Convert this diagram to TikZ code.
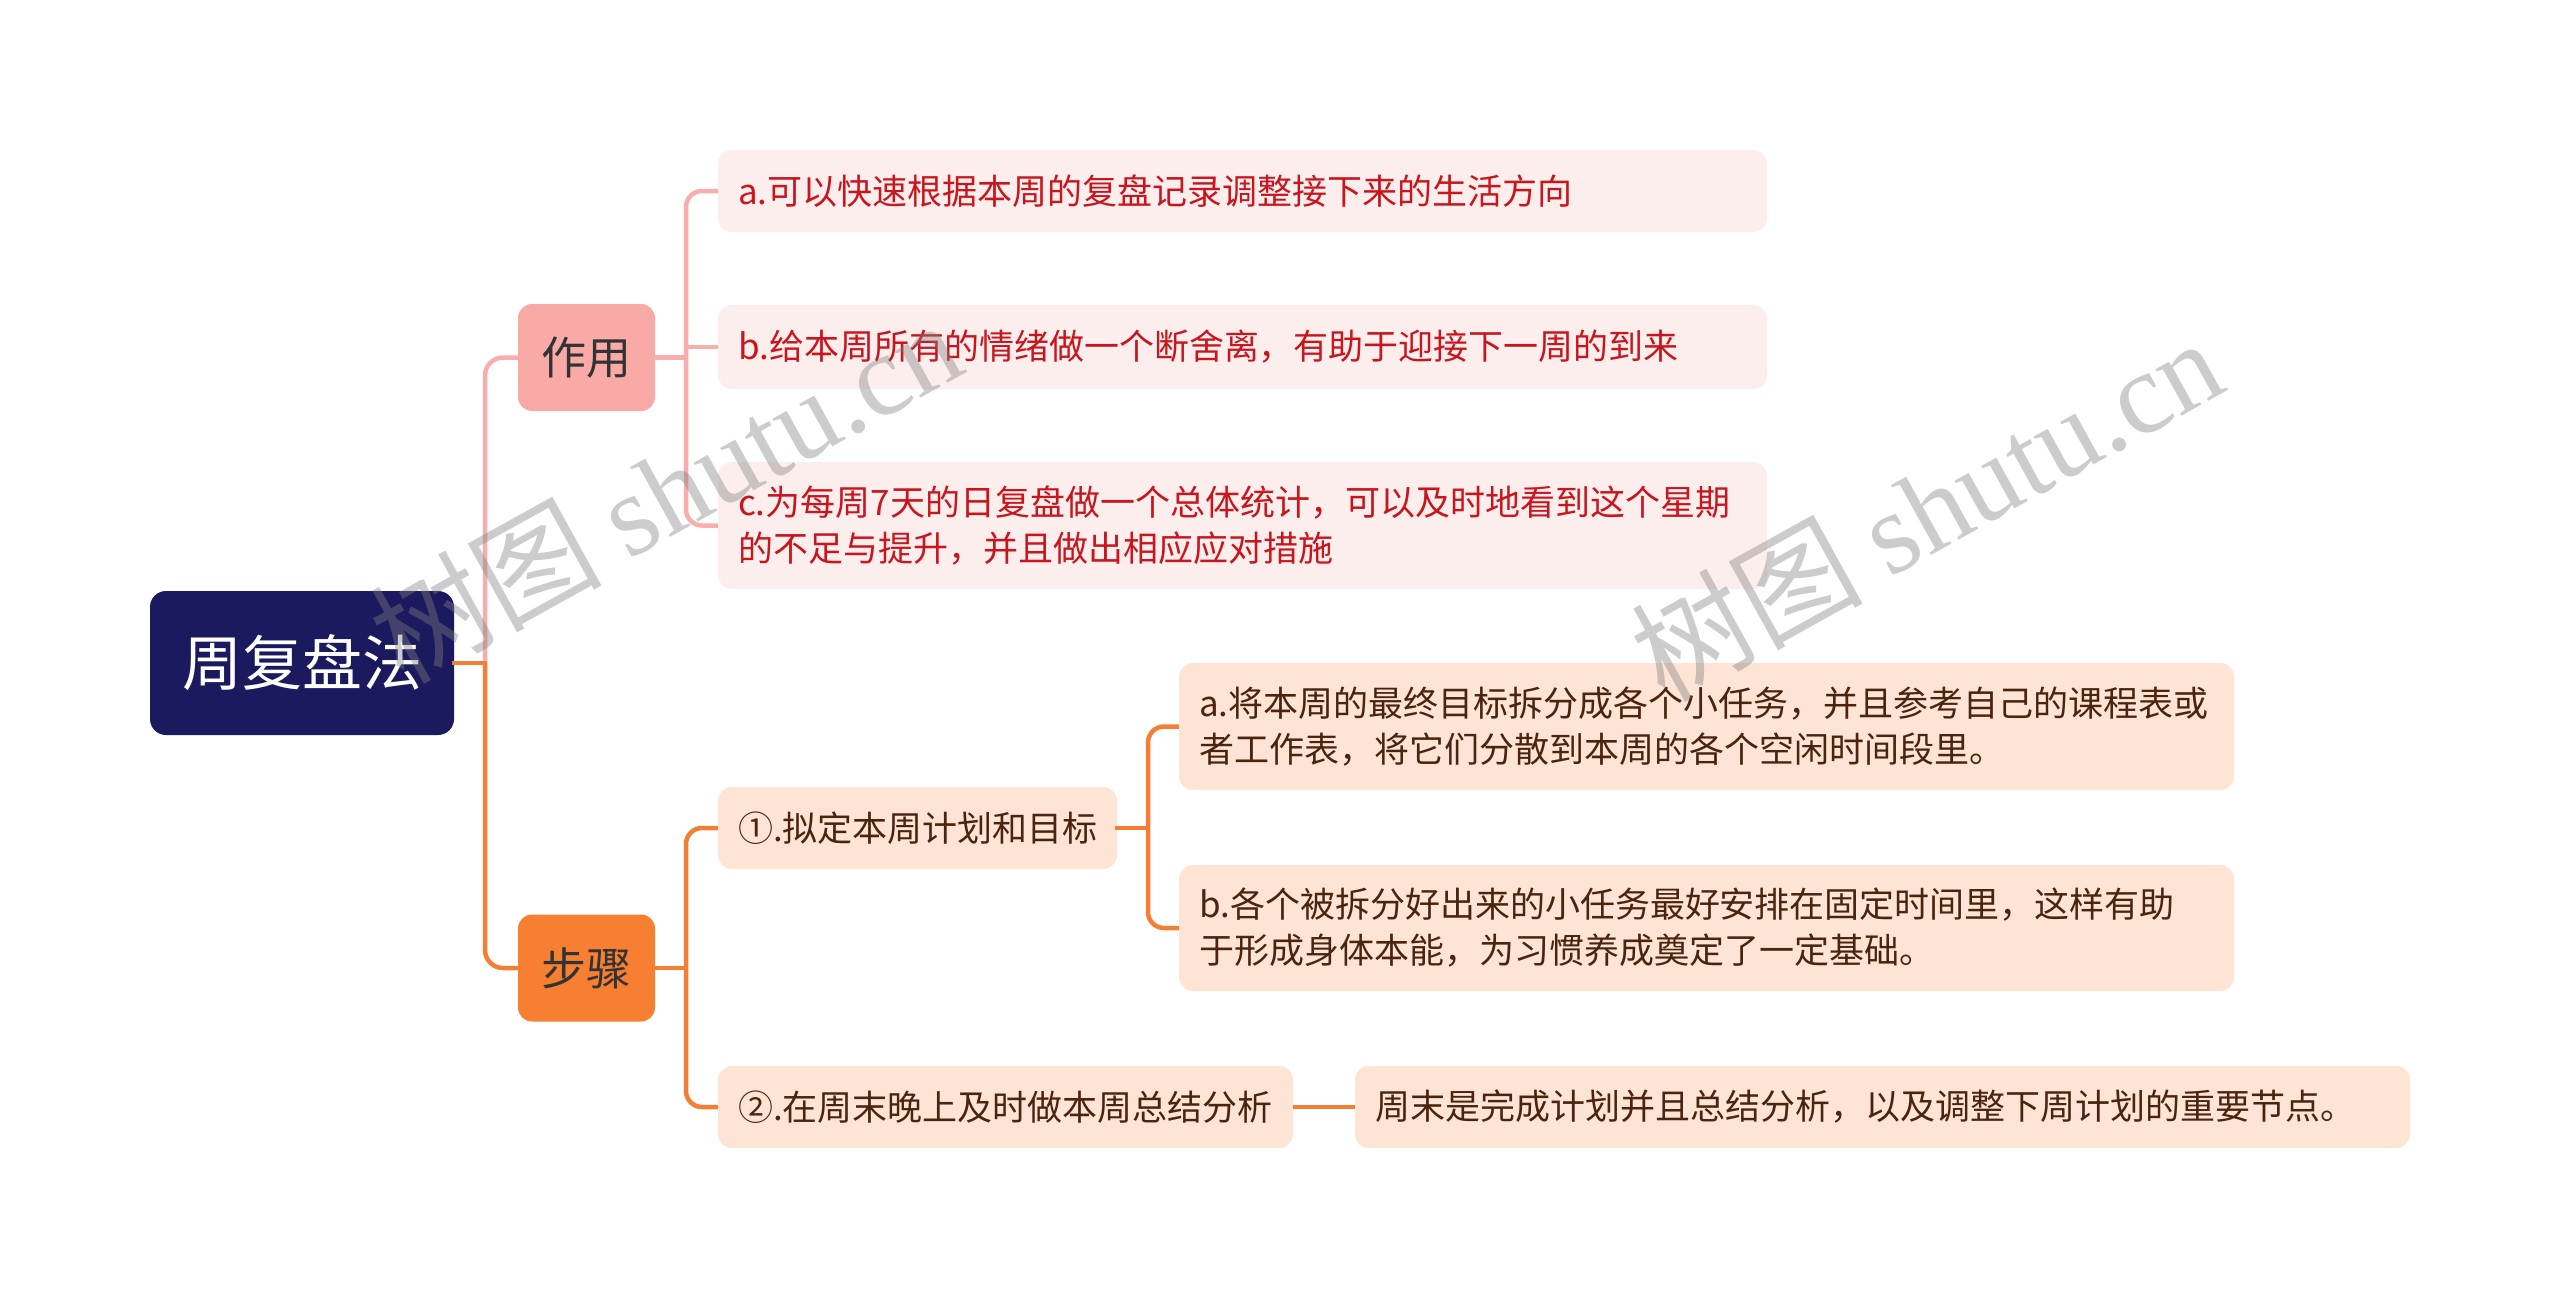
\documentclass[tikz,border=0pt]{standalone}
\usepackage{fontspec}
\setmainfont{Noto Sans CJK SC}
\newfontfamily\wmlatin{Liberation Serif}
\definecolor{rootc}{HTML}{1C1A5E}
\definecolor{pinkline}{HTML}{F8AEAC}
\definecolor{pinkfill}{HTML}{F9AAA7}
\definecolor{pinkleaf}{HTML}{FDEEEE}
\definecolor{redtext}{HTML}{C8161E}
\definecolor{orangeline}{HTML}{F47F34}
\definecolor{orangefill}{HTML}{F77F31}
\definecolor{peach}{HTML}{FDE4D5}
\definecolor{browntext}{HTML}{4B2410}
\definecolor{darktext}{HTML}{333333}
\tikzset{
 rootbox/.style={fill=rootc, text=white, rounded corners=16pt, minimum width=304pt, minimum height=144pt, font=\fontsize{60}{72}\selectfont, inner sep=0pt},
 mainbox/.style={rounded corners=14pt, minimum width=137pt, minimum height=107pt, font=\fontsize{45}{54}\selectfont, text=darktext, inner sep=0pt},
 leaf/.style={rounded corners=14pt, inner xsep=20pt, inner ysep=0pt, align=left, font=\fontsize{35}{46}\selectfont},
 pinkleafbox/.style={leaf, fill=pinkleaf, text=redtext},
 peachbox/.style={leaf, fill=peach, text=browntext},
 pinkconn/.style={draw=pinkline, line width=4.5pt},
 orangeconn/.style={draw=orangeline, line width=4.5pt},
 watermark/.style={rotate=29, text=black!50, opacity=0.4, font=\fontsize{116}{120}\selectfont, inner sep=0pt},
}
\begin{document}
\begin{tikzpicture}[x=1pt,y=-1pt]
\fill[white] (0,0) rectangle (2560,1298);
\useasboundingbox (0,0) rectangle (2560,1298);

\node[rootbox] (root) at (302,663) {周复盘法};
\node[mainbox, fill=pinkfill] (zy) at (586.5,357.5) {作用};
\node[mainbox, fill=orangefill] (bz) at (586.5,968) {步骤};

\node[pinkleafbox, text width=1009pt, minimum height=82pt] (za) at (1242.5,191) {a.可以快速根据本周的复盘记录调整接下来的生活方向};
\node[pinkleafbox, text width=1009pt, minimum height=84pt] (zb) at (1242.5,347) {b.给本周所有的情绪做一个断舍离，有助于迎接下一周的到来};
\node[pinkleafbox, text width=1009pt, minimum height=127pt] (zc) at (1242.5,525.5) {c.为每周7天的日复盘做一个总体统计，可以及时地看到这个星期\\的不足与提升，并且做出相应应对措施};

\node[peachbox, text width=359pt, minimum height=82pt] (s1) at (917.5,828) {①.拟定本周计划和目标};
\node[peachbox, text width=535pt, minimum height=82pt] (s2) at (1005.5,1107) {②.在周末晚上及时做本周总结分析};
\node[peachbox, text width=1015pt, minimum height=127pt] (s1a) at (1706.5,726.5) {a.将本周的最终目标拆分成各个小任务，并且参考自己的课程表或\\者工作表，将它们分散到本周的各个空闲时间段里。};
\node[peachbox, text width=1015pt, minimum height=126pt] (s1b) at (1706.5,928) {b.各个被拆分好出来的小任务最好安排在固定时间里，这样有助\\于形成身体本能，为习惯养成奠定了一定基础。};
\node[peachbox, text width=1015pt, minimum height=82pt] (s2a) at (1882.5,1107) {周末是完成计划并且总结分析，以及调整下周计划的重要节点。};

% connectors
\coordinate (j0) at (485,663);
\draw[pinkconn, rounded corners=18pt] (j0) |- (zy.west);
\draw[orangeconn, rounded corners=18pt] (j0) |- (bz.west);
\draw[orangeconn, line cap=rect] (root.east) -- (j0);

\coordinate (j1) at (686,357.5);
\draw[pinkconn, line cap=rect] (zy.east) -- (j1);
\draw[pinkconn, rounded corners=16pt] (za.west) -| (j1) |- (zc.west);
\draw[pinkconn] (j1 |- zb.west) -- (zb.west);

\coordinate (j2) at (686,968);
\draw[orangeconn, line cap=rect] (bz.east) -- (j2);
\draw[orangeconn, rounded corners=16pt] (s1.west) -| (j2) |- (s2.west);

\coordinate (j3) at (1148,828);
\draw[orangeconn, line cap=rect] (s1.east) -- (j3);
\draw[orangeconn, rounded corners=16pt] (s1a.west) -| (j3) |- (s1b.west);

\draw[orangeconn] (s2.east) -- (s2a.west);

% watermarks
\node[watermark] (wm1) at (665,490) {树图 {\wmlatin shutu.cn}};
\node[watermark] (wm2) at (1926,508) {树图 {\wmlatin shutu.cn}};
\end{tikzpicture}
\end{document}
